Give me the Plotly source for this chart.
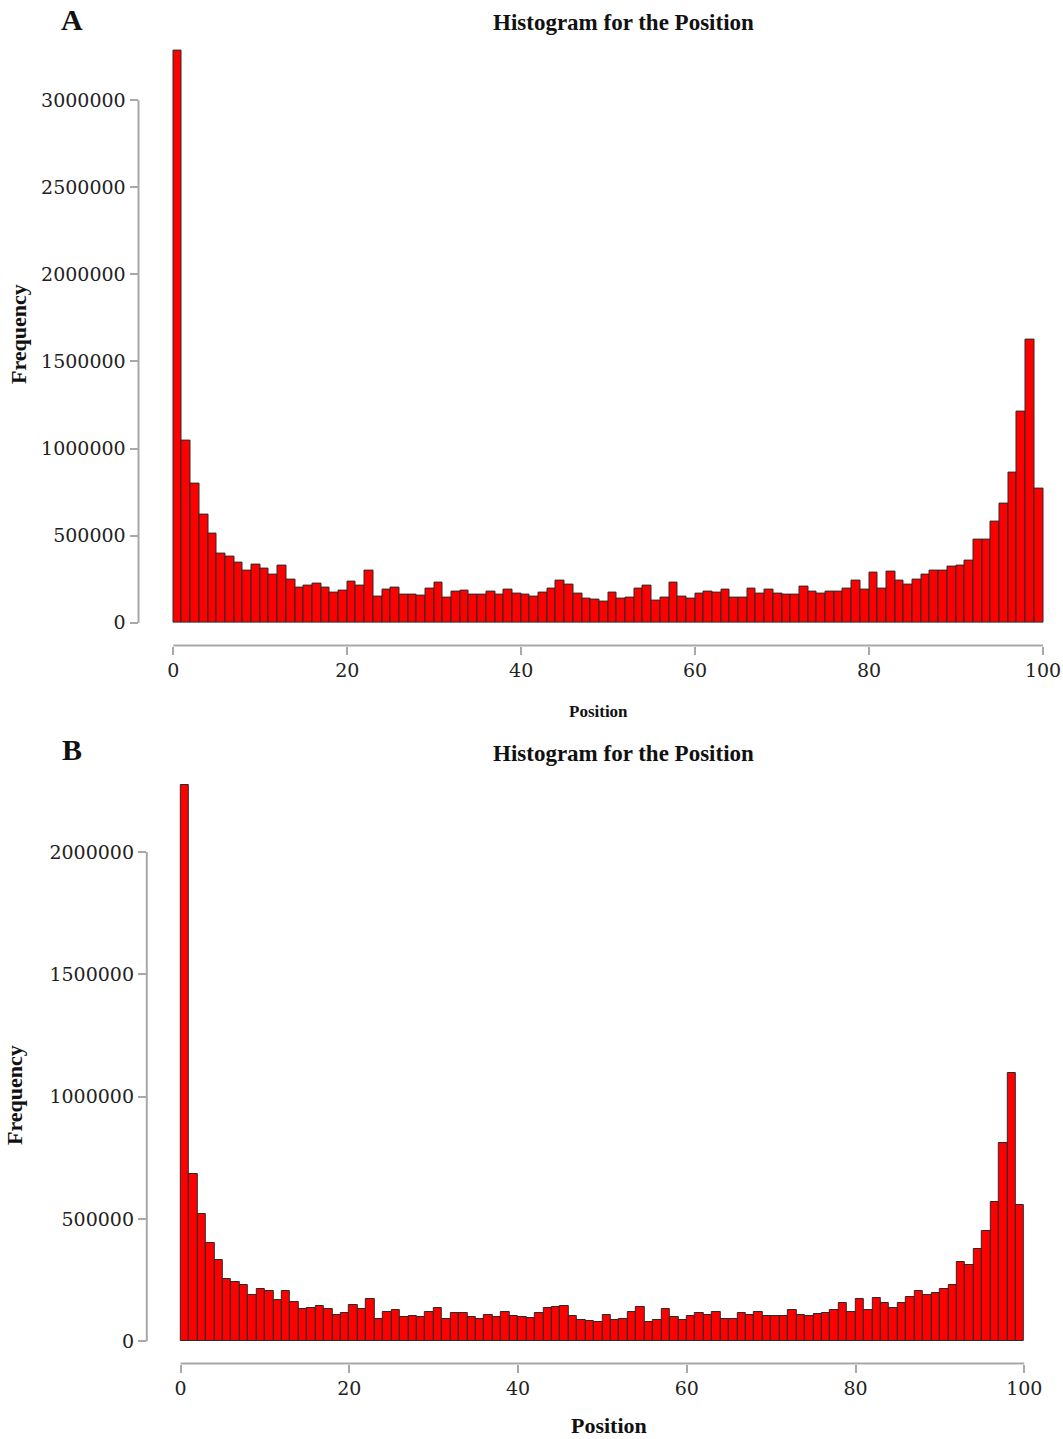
import plotly.graph_objects as go

positions = list(range(100))

counts_a = [
    3285000, 1045000, 796000, 622000, 511000, 398000, 379000, 346000, 297000, 335000,
    310000, 274000, 327000, 245000, 203000, 212000, 224000, 201000, 174000, 182000,
    237000, 212000, 297000, 149000, 189000, 203000, 161000, 161000, 153000, 195000,
    228000, 145000, 180000, 182000, 159000, 159000, 178000, 159000, 191000, 168000,
    159000, 151000, 174000, 195000, 243000, 218000, 165000, 136000, 130000, 121000,
    172000, 140000, 144000, 195000, 212000, 128000, 142000, 228000, 151000, 136000,
    166000, 180000, 172000, 191000, 145000, 145000, 195000, 165000, 188000, 165000,
    159000, 161000, 205000, 180000, 165000, 176000, 180000, 197000, 239000, 188000,
    285000, 195000, 293000, 243000, 216000, 245000, 279000, 302000, 299000, 325000,
    329000, 356000, 478000, 478000, 580000, 681000, 859000, 1213000, 1623000, 771000,
]

counts_b = [
    2273000, 684000, 521000, 401000, 331000, 256000, 244000, 228000, 188000, 214000,
    206000, 170000, 206000, 159000, 131000, 136000, 143000, 131000, 109000, 116000,
    150000, 132000, 173000, 93000, 121000, 127000, 101000, 104000, 98000, 119000,
    136000, 93000, 114000, 114000, 98000, 93000, 109000, 99000, 121000, 104000,
    99000, 97000, 114000, 134000, 140000, 143000, 102000, 87000, 83000, 78000,
    109000, 87000, 93000, 121000, 140000, 79000, 87000, 131000, 98000, 87000,
    104000, 114000, 108000, 121000, 93000, 91000, 116000, 106000, 119000, 105000,
    102000, 102000, 128000, 109000, 105000, 113000, 116000, 127000, 155000, 119000,
    174000, 127000, 176000, 157000, 138000, 155000, 179000, 204000, 189000, 199000,
    215000, 232000, 322000, 311000, 377000, 451000, 571000, 812000, 1096000, 557000,
]

x_ticks = [0, 20, 40, 60, 80, 100]
y_ticks_a = [0, 500000, 1000000, 1500000, 2000000, 2500000, 3000000]
y_ticks_b = [0, 500000, 1000000, 1500000, 2000000]

title_text = "Histogram for the Position"
x_title = "Position"
y_title = "Frequency"

W, H = 1063, 1439
SERIF = "Liberation Serif, Times New Roman, serif"
TICKFONT = dict(family="DejaVu Serif, serif", size=19, color="#222")
AXIS_COLOR = "#a8a8a8"

fig = go.Figure()
centers = [p + 0.5 for p in positions]
for counts, xa, ya in [(counts_a, "x", "y"), (counts_b, "x2", "y2")]:
    fig.add_trace(go.Bar(
        x=centers, y=counts, width=1.0, xaxis=xa, yaxis=ya,
        marker=dict(color="#ff0000", line=dict(color="#2a2a2a", width=1)),
        showlegend=False, hoverinfo="x+y",
    ))

def px_x(p):
    return p / W

def px_y(p):
    return 1 - p / H

common_x = dict(showgrid=False, zeroline=False, showline=False, ticks="outside",
                ticklen=8, tickwidth=2, tickcolor=AXIS_COLOR, tickvals=x_ticks,
                tickfont=TICKFONT, fixedrange=True)
common_y = dict(showgrid=False, zeroline=False, showline=False, ticks="outside",
                ticklen=8, tickwidth=2, tickcolor=AXIS_COLOR, tickformat="d",
                tickfont=TICKFONT, fixedrange=True)

ymax_a = max(counts_a)
ymax_b = max(counts_b)

fig.update_layout(
    width=W, height=H, margin=dict(l=0, r=0, t=0, b=0),
    paper_bgcolor="white", plot_bgcolor="white", bargap=0,
    xaxis=dict(common_x, domain=[px_x(138.5), 1.0], range=[-4, 102.3], anchor="y"),
    yaxis=dict(common_y, domain=[px_y(645.6), px_y(27.6)], tickvals=y_ticks_a,
               range=[-0.04 * ymax_a, 1.04 * ymax_a], anchor="x"),
    xaxis2=dict(common_x, domain=[px_x(146.8), px_x(1058)], range=[-4, 104], anchor="y2"),
    yaxis2=dict(common_y, domain=[px_y(1363.5), px_y(763)], tickvals=y_ticks_b,
                range=[-0.04 * ymax_b, 1.04 * ymax_b], anchor="x2"),
)

# R-style axis lines spanning only the tick range
for xr, yr, yt in [("x", "y", y_ticks_a), ("x2", "y2", y_ticks_b)]:
    fig.add_shape(type="line", xref=xr, yref=yr + " domain", x0=x_ticks[0], x1=x_ticks[-1],
                  y0=0, y1=0, line=dict(color=AXIS_COLOR, width=2))
    fig.add_shape(type="line", xref=xr + " domain", yref=yr, x0=0, x1=0,
                  y0=yt[0], y1=yt[-1], line=dict(color=AXIS_COLOR, width=2))

def ann(text, x, y, size, angle=0):
    fig.add_annotation(text=text, x=px_x(x), y=px_y(y), xref="paper", yref="paper",
                       showarrow=False, textangle=angle, xanchor="center", yanchor="middle",
                       font=dict(family=SERIF, size=size, color="#111"))

# panel A
ann("<b>A</b>", 72, 20, 30)
ann("<b>" + title_text + "</b>", 623, 23, 23)
ann("<b>" + y_title + "</b>", 18, 334, 22, -90)
ann("<b>" + x_title + "</b>", 598, 711, 17)
# panel B
ann("<b>B</b>", 72, 749, 30)
ann("<b>" + title_text + "</b>", 623, 753, 23)
ann("<b>" + y_title + "</b>", 14, 1095, 22, -90)
ann("<b>" + x_title + "</b>", 609, 1425, 22)

fig.write_html("out.html")
